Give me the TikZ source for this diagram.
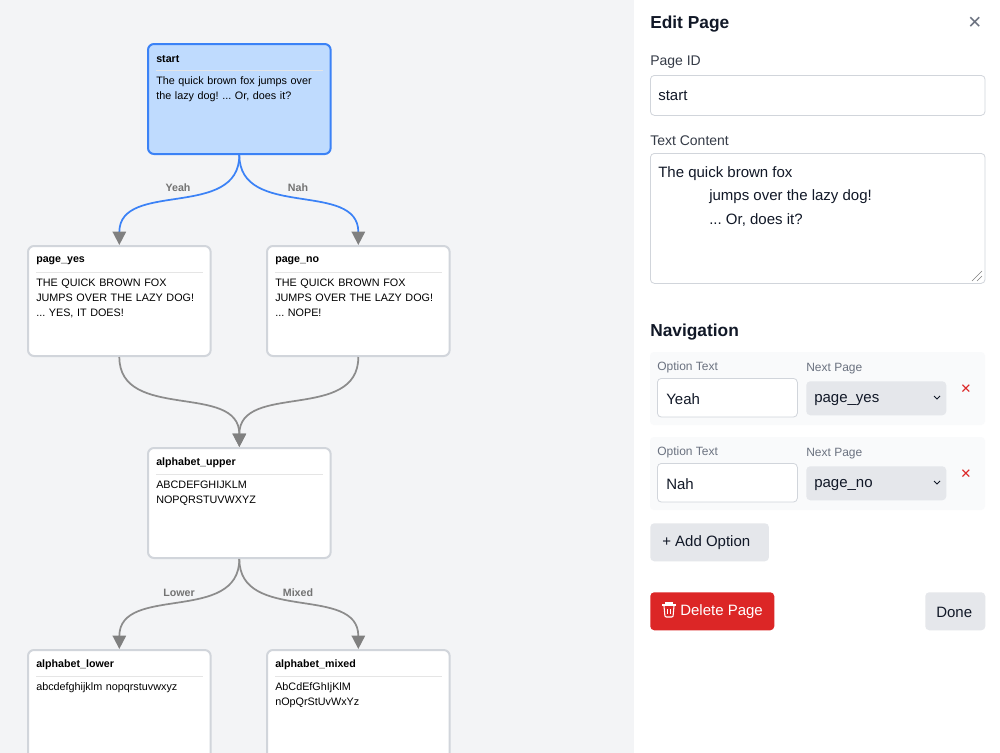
\documentclass[tikz,border=0pt]{standalone}
\usepackage{fontspec}
\setmainfont{Liberation Sans}
\newfontfamily\symfont{DejaVu Sans}
\usetikzlibrary{positioning,arrows.meta}
\frenchspacing
\definecolor{canvas}{HTML}{F3F4F6}
\definecolor{selfill}{HTML}{BFDBFE}
\definecolor{selline}{HTML}{3B82F6}
\definecolor{boxline}{HTML}{D1D5DB}
\definecolor{rowfill}{HTML}{F9FAFB}
\definecolor{btnfill}{HTML}{E5E7EB}
\definecolor{dangerred}{HTML}{DC2626}
\definecolor{labelgray}{HTML}{6B7280}
\definecolor{textdark}{HTML}{111827}
\tikzstyle{page} = [rectangle, draw=boxline, line width=1.5pt, fill=white, rounded corners=4.5pt, minimum width=137pt, minimum height=82.5pt, anchor=north west]
\tikzstyle{selected} = [draw=selline, fill=selfill]
\tikzstyle{title} = [anchor=west, inner sep=0pt, font=\fontsize{8}{10}\selectfont\bfseries]
\tikzstyle{body} = [anchor=north west, inner sep=0pt, text width=125pt, align=left, font=\fontsize{8.1}{11.25}\selectfont]
\tikzstyle{line} = [draw=gray!90, line width=1.3pt, -{Triangle[width=10pt,length=10pt,color=gray]}]
\tikzstyle{choice} = [font=\fontsize{8}{10}\selectfont\bfseries, text=gray!90!black, fill=canvas, inner sep=1pt]
\tikzstyle{field} = [rectangle, draw=boxline, line width=0.6pt, fill=white, rounded corners=3pt, anchor=north west]
\tikzstyle{caption} = [anchor=west, inner sep=0pt, font=\fontsize{10.5}{12}\selectfont, text=textdark!85]
\tikzstyle{small} = [anchor=west, inner sep=0pt, font=\fontsize{9}{11}\selectfont, text=labelgray]
\tikzstyle{entry} = [anchor=west, inner sep=0pt, font=\fontsize{11.25}{14}\selectfont, text=textdark]
\tikzstyle{button} = [rectangle, fill=btnfill, rounded corners=3pt, anchor=north west, inner sep=0pt, font=\fontsize{11.25}{14}\selectfont, text=textdark]
% one page of the story graph
\newcommand{\pagenode}[6]{%
	\node[page, #6] (#1) at (#2,#3) {};
	\node[title] (#1-t) at ([xshift=6.75pt,yshift=-12pt]#1.north west) {#4};
	\draw[#6, draw=white!80!gray, line width=0.5pt] ([xshift=6.75pt,yshift=-20.25pt]#1.north west) -- ([xshift=-6.75pt,yshift=-20.25pt]#1.north east);
	\node[body] (#1-b) at ([xshift=6.75pt,yshift=-25pt]#1.north west) {#5};
}

\begin{document}
\begin{tikzpicture}[x=0.75pt, y=-0.75pt]
	\useasboundingbox (0,0) rectangle (1000,753);
	\clip (0,0) rectangle (1000,753);
	\fill[canvas] (0,0) rectangle (634,753);
	\fill[white] (634,0) rectangle (1000,753);

	% graph
	\pagenode{start}{147}{43}{start}{The quick brown fox jumps over the lazy dog! ... Or, does it?}{selected}
	\pagenode{pyes}{27}{245}{page\_yes}{THE QUICK BROWN FOX JUMPS OVER THE LAZY DOG! ... YES, IT DOES!}{}
	\pagenode{pno}{266}{245}{page\_no}{THE QUICK BROWN FOX JUMPS OVER THE LAZY DOG! ... NOPE!}{}
	\pagenode{upper}{147}{447}{alphabet\_upper}{ABCDEFGHIJKLM\\NOPQRSTUVWXYZ}{}
	\pagenode{lower}{27}{649}{alphabet\_lower}{abcdefghijklm nopqrstuvwxyz}{}
	\pagenode{mixed}{266}{649}{alphabet\_mixed}{AbCdEfGhIjKlM\\nOpQrStUvWxYz}{}

	\path[line, draw=selline] (start.south) .. controls +(0,65) and +(0,-65) .. (pyes.north);
	\path[line, draw=selline] (start.south) .. controls +(0,65) and +(0,-65) .. (pno.north);
	\path[line] (pyes.south) .. controls +(0,65) and +(0,-65) .. (upper.north);
	\path[line] (pno.south) .. controls +(0,65) and +(0,-65) .. (upper.north);
	\path[line] (upper.south) .. controls +(0,65) and +(0,-65) .. (lower.north);
	\path[line] (upper.south) .. controls +(0,65) and +(0,-65) .. (mixed.north);
	\node[choice] (yeah) at (178,188) {Yeah};
	\node[choice] (nah) at (298,188) {Nah};
	\node[choice] (lw) at (179,593) {Lower};
	\node[choice] (mx) at (298,593) {Mixed};

	% side panel
	\node[anchor=west, inner sep=0pt, font=\fontsize{13}{15}\selectfont\bfseries, text=textdark] (head) at (650,24) {Edit Page};
	\node[inner sep=0pt, font=\symfont\fontsize{13}{15}\selectfont, text=labelgray] (close) at (975,23) {✕};

	\node[caption] (idlbl) at (650,62) {Page ID};
	\node[field, minimum width=251pt, minimum height=30pt] (idbox) at (650,75) {};
	\node[entry] (idtxt) at (658,96) {start};

	\node[caption] (txlbl) at (650,141) {Text Content};
	\node[field, minimum width=251pt, minimum height=97.5pt] (txbox) at (650,153) {};
	\node[entry] (tx1) at (658,174) {The quick brown fox};
	\node[entry] (tx2) at (709,197) {jumps over the lazy dog!};
	\node[entry] (tx3) at (709,220) {... Or, does it?};
	\draw[gray, line width=0.5pt] (972,281) -- (982,271) (977,281) -- (982,276);

	\node[anchor=west, inner sep=0pt, font=\fontsize{13}{15}\selectfont\bfseries, text=textdark] (nav) at (650,332) {Navigation};

	\foreach \y/\opt/\dest [count=\i] in {352/Yeah/page\_yes, 437/Nah/page\_no} {
		\fill[rowfill, rounded corners=3pt] (650,\y) rectangle (985,\y+73);
		\node[small] (ol\i) at (657,\y+15) {Option Text};
		\node[field, minimum width=105pt, minimum height=29pt] (ob\i) at (657,\y+26) {};
		\node[entry] (ot\i) at (666,\y+47) {\opt};
		\node[small] (nl\i) at (806,\y+17) {Next Page};
		\node[button, minimum width=105pt, minimum height=25.5pt] (nb\i) at (806,\y+29) {};
		\node[entry] (nt\i) at (814,\y+48) {\dest};
		\draw[textdark, line width=0.7pt] (934,\y+44) -- (937,\y+47) -- (940,\y+44);
		\node[inner sep=0pt, font=\symfont\fontsize{10}{12}\selectfont, text=dangerred] (x\i) at (966,\y+37) {✕};
	}

	\node[button, minimum width=89pt, minimum height=28.5pt] (add) at (650,523) {};
	\node[entry] (addt) at (662,543) {+ Add Option};

	\node[button, fill=dangerred, minimum width=93pt, minimum height=28.5pt] (del) at (650,592) {};
	% trash icon
	\draw[white, line width=0.8pt, rounded corners=0.8pt] (664,606) -- (665,617) -- (673,617) -- (674,606);
	\draw[white, line width=0.8pt] (662,605) -- (676,605) (666,605) -- (666,603) -- (672,603) -- (672,605) (667.5,609) -- (667.5,614) (670.5,609) -- (670.5,614);
	\node[entry, text=white] (delt) at (680,612) {Delete Page};

	\node[button, minimum width=45pt, minimum height=28.5pt] (done) at (925,592) {};
	\node[entry] (donet) at (936,612) {Done};
\end{tikzpicture}
\end{document}
